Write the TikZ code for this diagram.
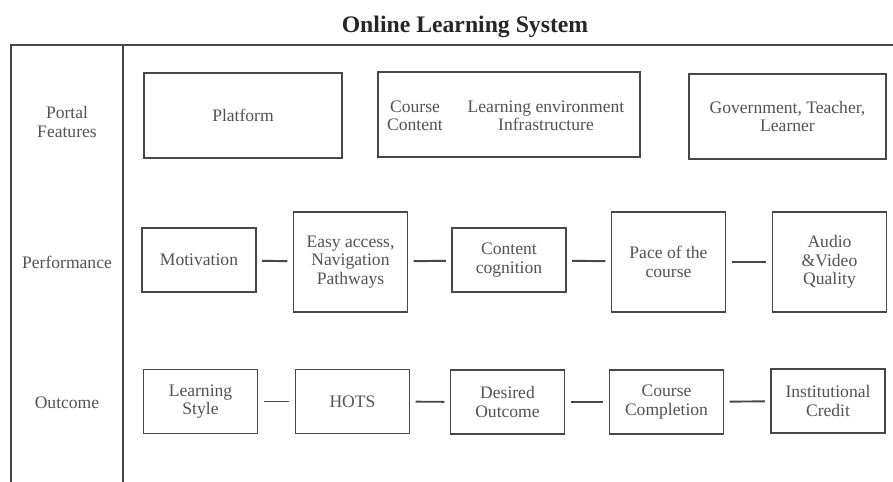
\documentclass[tikz,border=0pt]{standalone}
\usepackage{fontspec}
\setmainfont{Liberation Serif}
\usetikzlibrary{positioning}

\begin{document}
\begin{tikzpicture}[x=0.02cm,y=-0.02cm,
  txt/.style={align=center,text=black!68,font=\fontsize{10}{10.5}\selectfont},
  box/.style={txt,rectangle,draw=black!72,line width=1.1pt,inner sep=2pt},
  small/.style={box,minimum width=2.28cm,minimum height=1.28cm},
  tall/.style={box,minimum width=2.28cm,minimum height=2cm},
  wide/.style={box,minimum width=#1,minimum height=1.7cm},
  link/.style={draw=black!72,line width=1.1pt,shorten <=3pt,shorten >=3pt}]
\useasboundingbox (0,0) rectangle (893,482);

% title and frame
\node[font=\fontsize{13.5}{14}\selectfont\bfseries,text=black!85] (title) at (465,27) {Online Learning System};
\draw[draw=black!72,line width=1.1pt] (11,482) -- (11,45) -- (893,45);
\draw[draw=black!72,line width=1.1pt] (123,45) -- (123,482);

% row names
\node[txt] (portal) at (67,122) {Portal\\Features};
\node[txt] (perf) at (67,262) {Performance};
\node[txt] (outc) at (67,403) {Outcome};

% portal features
\node[wide=3.96cm] (platform) at (243,115.5) {Platform};
\node[wide=5.24cm] (content) at (509,114.5) {};
\node[txt] (course) at (415,116) {Course\\Content};
\node[txt] (env) at (546,116) {Learning environment\\Infrastructure};
\node[wide=3.94cm] (gov) at (787.5,116.5) {Government, Teacher,\\Learner};

% performance
\node[small] (motiv) at (199,260) {Motivation};
\node[tall] (access) at (350.5,262) {Easy access,\\Navigation\\Pathways};
\node[small] (cogn) at (509,260) {Content\\cognition};
\node[tall] (pace) at (668.5,262) {Pace of the\\course};
\node[tall] (av) at (829.5,262) {Audio\\\&Video\\Quality};
\draw[link] (motiv) -- (access);
\draw[link] (access) -- (cogn);
\draw[link] (cogn) -- (pace);
\draw[link] (pace) -- (av);

% outcome
\node[small] (style) at (200.5,401.5) {Learning\\Style};
\node[small] (hots) at (352.5,401.5) {HOTS};
\node[small] (desired) at (507.5,402) {Desired\\Outcome};
\node[small] (compl) at (666.5,402) {Course\\Completion};
\node[small] (credit) at (828,401) {Institutional\\Credit};
\draw[link] (style) -- (hots);
\draw[link] (hots) -- (desired);
\draw[link] (desired) -- (compl);
\draw[link] (compl) -- (credit);
\end{tikzpicture}
\end{document}
